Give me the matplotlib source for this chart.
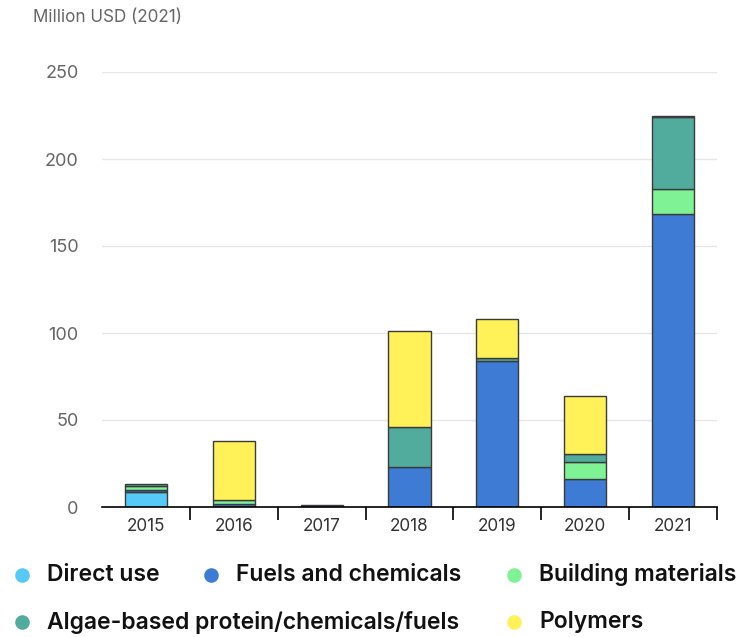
import matplotlib.pyplot as plt
from matplotlib.lines import Line2D
import numpy as np

plt.rcParams['font.family'] = ['Inter', 'DejaVu Sans']

# values, million USD (2021)
years = ['2015', '2016', '2017', '2018', '2019', '2020', '2021']
direct_use = [8.5, 0, 0, 0, 0, 0, 0]
fuels = [1.5, 1.5, 1.0, 23, 84, 16, 168.5]
building = [2.0, 2.3, 0, 0, 0, 9.7, 14]
algae = [1.0, 0, 0, 22.7, 1.5, 4.5, 41.5]
polymers = [0, 34, 0, 55.3, 22.5, 33.6, 1.0]

series = [
    ("Direct use", direct_use, "#56c9f7"),
    ("Fuels and chemicals", fuels, "#3d7bd4"),
    ("Building materials", building, "#80f296"),
    ("Algae-based protein/chemicals/fuels", algae, "#52ac9d"),
    ("Polymers", polymers, "#fff157"),
]

fig = plt.figure(figsize=(7.43, 6.37), dpi=100)
ax = fig.add_axes([102 / 743, 130 / 637, 615 / 743, 435 / 637])

x = np.arange(len(years))
bottom = np.zeros(len(years))
for name, vals, col in series:
    vals = np.array(vals, dtype=float)
    lw = [1.0 if v > 0 else 0 for v in vals]
    ax.bar(x, vals, 0.48, bottom=bottom, color=col, edgecolor="#3a3a3a",
           linewidth=lw, zorder=3)
    bottom += vals

ax.set_xlim(-0.5, len(years) - 0.5)
ax.set_ylim(0, 250)
ax.set_yticks([0, 50, 100, 150, 200, 250])
ax.yaxis.grid(True, color="#e6e6e6", linewidth=1, zorder=0)
ax.tick_params(axis='y', length=0, pad=17, labelsize=13, labelcolor="#666666")

ax.set_xticks(x)
ax.set_xticklabels(years)
ax.set_xticks(np.arange(0.5, len(years)), minor=True)
ax.tick_params(axis='x', which='major', length=0, pad=8, labelsize=12.3, labelcolor="#333333")
ax.tick_params(axis='x', which='minor', length=9, width=1.2, color="black")

for s in ['top', 'right', 'left']:
    ax.spines[s].set_visible(False)
ax.spines['bottom'].set_linewidth(1.2)
ax.spines['bottom'].set_zorder(4)

fig.text(33 / 743, 1 - 17 / 637, "Million USD (2021)", fontsize=12.3, color="#666666",
         ha="left", va="center")

# legend laid out like the original (flow layout)
legend_pos = [(22, 575), (211, 575), (514, 575), (22, 622), (514, 622)]
for (name, vals, col), (px, py) in zip(series, legend_pos):
    fx, fy = px / 743, 1 - py / 637
    fig.add_artist(Line2D([fx], [fy], marker='o', markersize=10.5, color=col,
                          markeredgewidth=0, linestyle='none',
                          transform=fig.transFigure))
    fig.text(fx + 25 / 743, fy, name, fontsize=16.5, fontweight="semibold",
             color="#111111", ha="left", va="center")

fig.savefig("out.png", dpi=100)
